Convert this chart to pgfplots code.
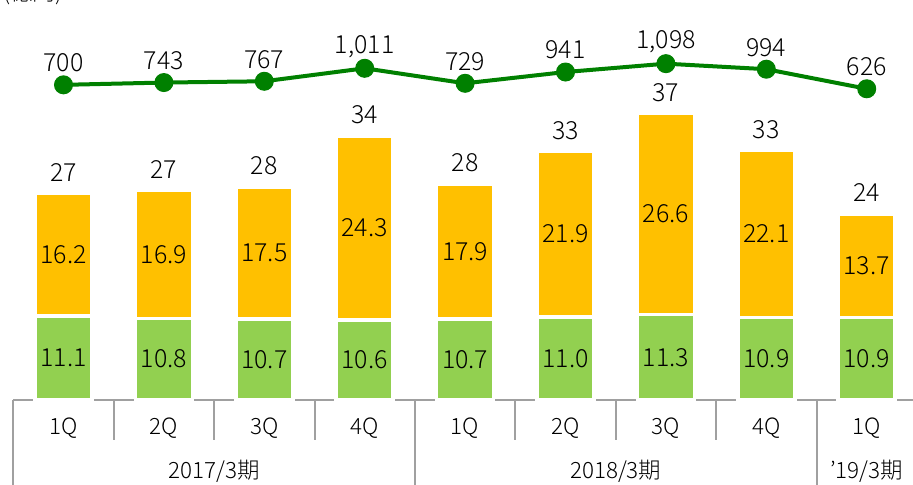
\documentclass[border=0pt]{standalone}
\usepackage{fontspec}
\setmainfont{Noto Sans CJK JP}[UprightFont={* Light}]
\usepackage{pgfplots}
\usepackage{pgfplotstable}
\pgfplotsset{compat=1.18}
\definecolor{gbar}{HTML}{92D050}
\definecolor{obar}{HTML}{FFC000}
\definecolor{lgreen}{HTML}{008000}
\definecolor{sepc}{HTML}{A0A0A0}
\newcommand\fs{\fontsize{22.5}{26}\selectfont}
\newcommand\fd{\fontsize{25}{28}\selectfont}

\pgfplotstableread{
x g o t
0 11.1 16.2 27
1 10.8 16.9 27
2 10.7 17.5 28
3 10.6 24.3 34
4 10.7 17.9 28
5 11.0 21.9 33
6 11.3 26.6 37
7 10.9 22.1 33
8 10.9 13.7 24
}\bars

\pgfplotstableread{
x v l
0 700 700
1 743 743
2 767 767
3 1011 1,011
4 729 729
5 941 941
6 1098 1,098
7 994 994
8 626 626
}\linedata

\pgfplotsset{base/.style={scale only axis, width=899.7bp, height=400bp,
  xmin=-0.5, xmax=8.461, at={(13.3bp,85bp)}, anchor=south west, clip=false}}

\begin{document}
\begin{tikzpicture}
\path[use as bounding box] (0,0) rectangle (913bp,485bp);
\node[anchor=base west, inner sep=0, font=\fs] at (3bp,484bp) {(億円)};
% bars
\begin{axis}[base, ymin=0, ymax=52.91, ybar stacked, bar width=57bp,
  axis x line=bottom, hide y axis,
  x axis line style={-, draw=sepc, line width=2bp},
  xtick=data, xticklabels={1Q,2Q,3Q,4Q,1Q,2Q,3Q,4Q,1Q},
  major tick length=0,
  xticklabel style={anchor=center, yshift=-28bp, font=\fs}]
\addplot[fill=gbar, draw=white, line width=3.5bp] table[x=x,y=g]{\bars};
\addplot[fill=obar, draw=white, line width=3.5bp] table[x=x,y=o]{\bars};
\pgfplotsinvokeforeach{0.5,1.5,2.5,4.5,5.5,6.5}{
  \draw[sepc, line width=2bp] (axis cs:#1,0) -- ([yshift=-40bp]axis cs:#1,0);
}
\pgfplotsinvokeforeach{-0.5,3.5,7.5}{
  \draw[sepc, line width=2bp] (axis cs:#1,0) -- ([yshift=-90bp]axis cs:#1,0);
}
\node[font=\fs, anchor=center] at ([yshift=-71bp]axis cs:1.5,0) {2017/3期};
\node[font=\fs, anchor=center] at ([yshift=-71bp]axis cs:5.5,0) {2018/3期};
\node[font=\fs, anchor=center] at ([yshift=-71bp]axis cs:8,0) {’19/3期};
\end{axis}
% segment and total labels
\begin{axis}[base, ymin=0, ymax=52.91, hide axis]
\addplot[draw=none, mark=none, nodes near coords, point meta=explicit symbolic,
  nodes near coords style={anchor=center, font=\fd, text=black}]
  table[x=x, y expr=\thisrow{g}/2, meta=g]{\bars};
\addplot[draw=none, mark=none, nodes near coords, point meta=explicit symbolic,
  nodes near coords style={anchor=center, font=\fd, text=black}]
  table[x=x, y expr=\thisrow{g}+\thisrow{o}/2, meta=o]{\bars};
\addplot[draw=none, mark=none, nodes near coords, point meta=explicit symbolic,
  nodes near coords style={anchor=center, yshift=21bp, font=\fd, text=black}]
  table[x=x, y expr=\thisrow{g}+\thisrow{o}, meta=t]{\bars};
\end{axis}
% line
\begin{axis}[base, ymin=-5224, ymax=2295, hide axis]
\addplot[lgreen, line width=4bp, mark=*, mark size=9bp,
  mark options={fill=lgreen, draw=lgreen, line width=1bp},
  nodes near coords, point meta=explicit symbolic,
  nodes near coords style={anchor=center, yshift=22bp, font=\fd, text=black}]
  table[x=x,y=v,meta=l]{\linedata};
\end{axis}
\end{tikzpicture}
\end{document}
